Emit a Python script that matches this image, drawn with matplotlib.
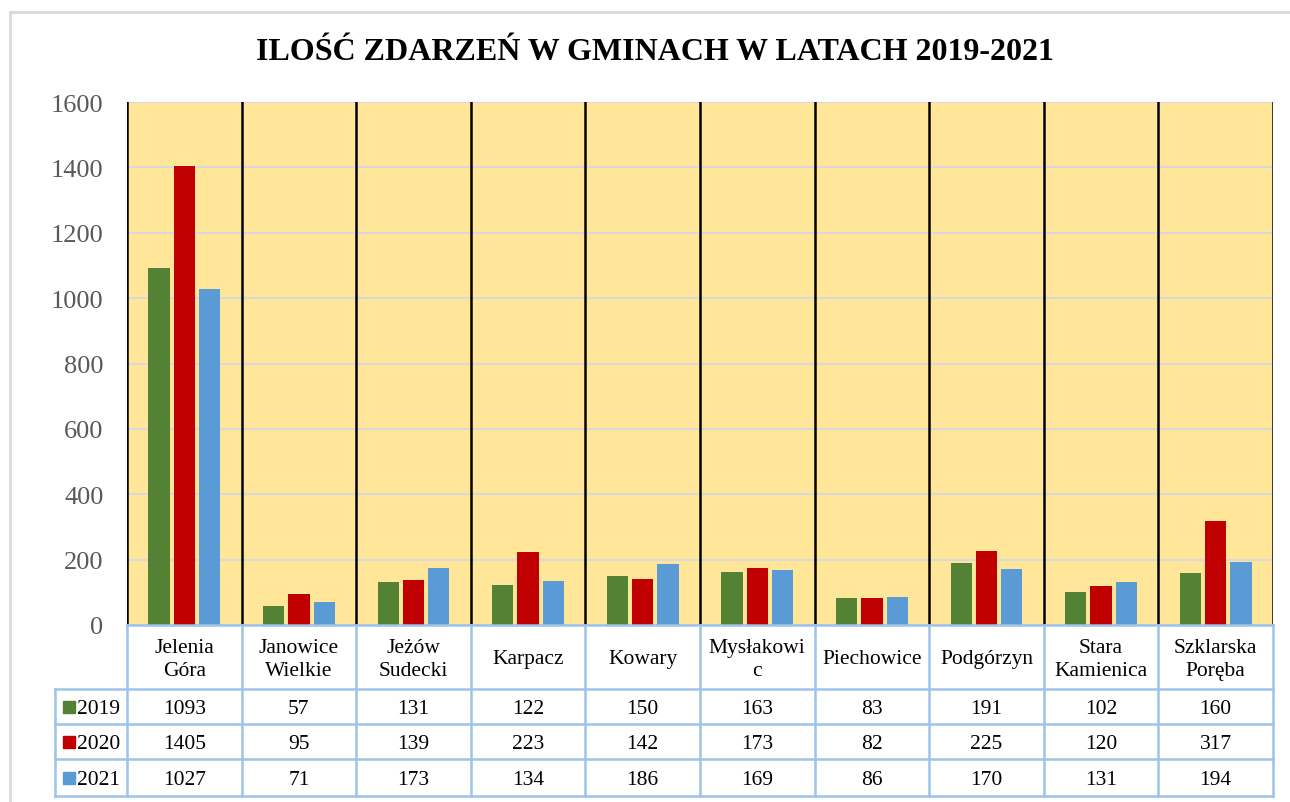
import numpy as np
import matplotlib.pyplot as plt
from matplotlib.patches import Rectangle
from matplotlib.lines import Line2D
from matplotlib.transforms import blended_transform_factory

plt.rcParams['font.family'] = ['Liberation Serif', 'DejaVu Serif']

gminy = ['Jelenia\nGóra', 'Janowice\nWielkie', 'Jeżów\nSudecki', 'Karpacz', 'Kowary',
         'Mysłakowi\nc', 'Piechowice', 'Podgórzyn', 'Stara\nKamienica', 'Szklarska\nPoręba']
lata = ['2019', '2020', '2021']
v2019 = [1093, 57, 131, 122, 150, 163, 83, 191, 102, 160]
v2020 = [1405, 95, 139, 223, 142, 173, 82, 225, 120, 317]
v2021 = [1027, 71, 173, 134, 186, 169, 86, 170, 131, 194]
kolory = ['#548235', '#C00000', '#5B9BD5']

W, H = 1290, 803
fig = plt.figure(figsize=(W / 100, H / 100), dpi=100)

# ramka wykresu (górna i lewa krawędź)
fig.lines.append(Line2D([10 / W, 1.0], [1 - 13 / H, 1 - 13 / H], transform=fig.transFigure,
                        color='#D9D9D9', linewidth=2))
fig.lines.append(Line2D([10 / W, 10 / W], [1 - 13 / H, 0], transform=fig.transFigure,
                        color='#D9D9D9', linewidth=2))

ax = fig.add_axes([127 / W, (H - 626) / H, (1273 - 127) / W, (626 - 103) / H])
ax.set_facecolor('#FFE699')

x = np.arange(len(gminy))
serie = [v2019, v2020, v2021]
for k, vals in enumerate(serie):
    ax.bar(x + (k - 1) * 0.22, vals, width=0.185, color=kolory[k], zorder=3)

ax.set_xlim(-0.5, len(gminy) - 0.5)
ax.set_ylim(0, 1600)
ax.set_yticks(range(0, 1601, 200))
ax.tick_params(axis='y', length=0, labelsize=19, labelcolor='#595959', pad=17)
ax.tick_params(axis='x', length=0, labelbottom=False)
ax.grid(axis='y', color='#D9D9D9', linewidth=1.5, zorder=1)
for s in ax.spines.values():
    s.set_visible(False)
for b in np.arange(-0.5, len(gminy), 1.0):
    ax.axvline(b, color='black', linewidth=1.8, zorder=2)

fig.text(655 / W, 1 - 52 / H, 'ILOŚĆ ZDARZEŃ W GMINACH W LATACH 2019-2021',
         ha='center', va='center', fontsize=23, fontweight='bold')

# tabela danych
tr = blended_transform_factory(ax.transData, ax.transAxes)
ph = 626 - 103
def yf(py):
    return (626 - py) / ph

tc = '#9DC3E6'
lw = 1.8
fs = 15.5
y_head = yf(690)
rows = [yf(690), yf(725), yf(760), yf(797)]
xl = -0.5 - 72 / 114.6
ax.plot([-0.5, 9.5], [0, 0], color=tc, lw=lw, transform=tr, clip_on=False, zorder=4)
for yy in rows:
    ax.plot([xl, 9.5], [yy, yy], color=tc, lw=lw, transform=tr, clip_on=False)
for b in np.arange(-0.5, len(gminy), 1.0):
    ax.plot([b, b], [0, rows[-1]], color=tc, lw=lw, transform=tr, clip_on=False)
ax.plot([xl, xl], [rows[0], rows[-1]], color=tc, lw=lw, transform=tr, clip_on=False)

dy = 2 / ph
for i, g in enumerate(gminy):
    ax.text(i, (0 + y_head) / 2 - dy, g, ha='center', va='center', fontsize=fs,
            linespacing=1.3, transform=tr, clip_on=False)
for k, vals in enumerate(serie):
    yc = (rows[k] + rows[k + 1]) / 2
    for i, v in enumerate(vals):
        ax.text(i, yc - dy, str(v), ha='center', va='center', fontsize=fs,
                transform=tr, clip_on=False)
    # znacznik legendy
    sx = -0.5 - 64 / 114.6
    sw = 12 / 114.6
    sh = 12 / ph
    ax.add_patch(Rectangle((sx, yc - sh / 2), sw, sh, color=kolory[k],
                           transform=tr, clip_on=False))
    ax.text(-0.5 - 50 / 114.6, yc - dy, lata[k], ha='left', va='center', fontsize=fs,
            transform=tr, clip_on=False)

fig.savefig('out.png', dpi=100)
